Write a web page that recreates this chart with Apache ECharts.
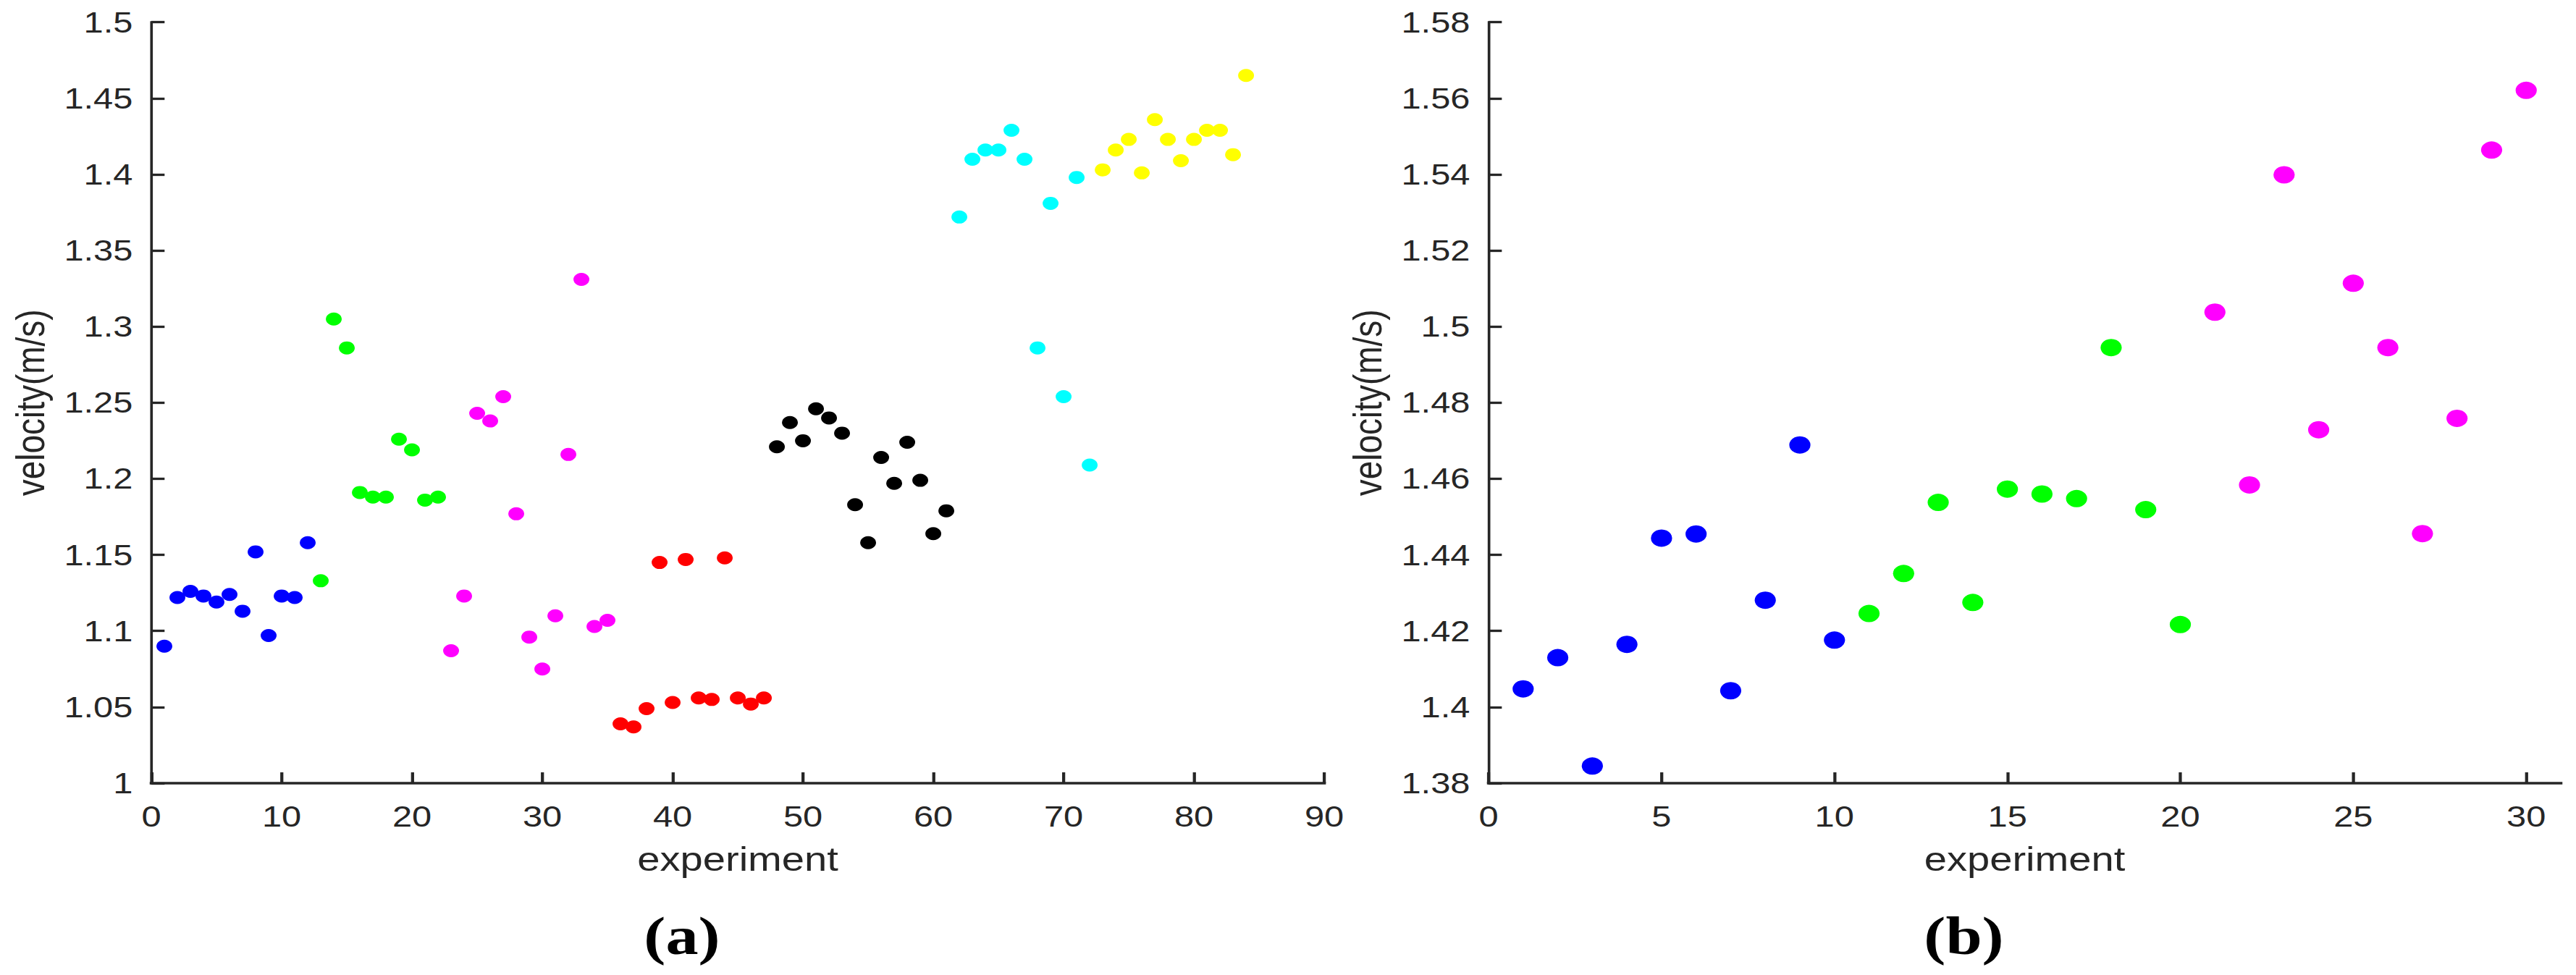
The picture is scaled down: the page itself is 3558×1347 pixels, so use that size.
<!DOCTYPE html>
<html>
<head>
<meta charset="utf-8">
<script src="https://cdn.jsdelivr.net/npm/echarts@6/dist/echarts.min.js"></script>
<style>
  html, body { margin: 0; padding: 0; background: #ffffff; }
  #wrap { width: 3558px; height: 1347px; overflow: hidden; background: #ffffff; }
  /* the reference figure is stretched horizontally (~1.22x); reproduce that */
  #chart { width: 2916px; height: 1347px; transform: scaleX(1.2202); transform-origin: 0 0; }
</style>
</head>
<body>
<div id="wrap"><div id="chart"></div></div>
<script>
// ---------- data: panel (a) ----------
const aBlue    = [[1,1.090],[2,1.122],[3,1.126],[4,1.123],[5,1.119],[6,1.124],[7,1.113],[8,1.152],[9,1.097],[10,1.123],[11,1.122],[12,1.158]];
const aGreen   = [[13,1.133],[14,1.305],[15,1.286],[16,1.191],[17,1.188],[18,1.188],[19,1.226],[20,1.219],[21,1.186],[22,1.188]];
const aMagenta = [[23,1.087],[24,1.123],[25,1.243],[26,1.238],[27,1.254],[28,1.177],[29,1.096],[30,1.075],[31,1.110],[32,1.216],[33,1.331],[34,1.103],[35,1.107]];
const aRed     = [[36,1.039],[37,1.037],[38,1.049],[39,1.145],[40,1.053],[41,1.147],[42,1.056],[43,1.055],[44,1.148],[45,1.056],[46,1.052],[47,1.056]];
const aBlack   = [[48,1.221],[49,1.237],[50,1.225],[51,1.246],[52,1.240],[53,1.230],[54,1.183],[55,1.158],[56,1.214],[57,1.197],[58,1.224],[59,1.199],[60,1.164],[61,1.179]];
const aCyan    = [[62,1.372],[63,1.410],[64,1.416],[65,1.416],[66,1.429],[67,1.410],[68,1.286],[69,1.381],[70,1.254],[71,1.398],[72,1.209]];
const aYellow  = [[73,1.403],[74,1.416],[75,1.423],[76,1.401],[77,1.436],[78,1.423],[79,1.409],[80,1.423],[81,1.429],[82,1.429],[83,1.413],[84,1.465]];

// ---------- data: panel (b) ----------
const bBlue    = [[1,1.4048],[2,1.4130],[3,1.3845],[4,1.4165],[5,1.4444],[6,1.4455],[7,1.4043],[8,1.4281],[9,1.4689],[10,1.4176]];
const bGreen   = [[11,1.4246],[12,1.4351],[13,1.4538],[14,1.4275],[15,1.4573],[16,1.4560],[17,1.4548],[18,1.4945],[19,1.4519],[20,1.4217]];
const bMagenta = [[21,1.5038],[22,1.4584],[23,1.5399],[24,1.4729],[25,1.5114],[26,1.4945],[27,1.4456],[28,1.4759],[29,1.5464],[30,1.5621]];

// ---------- axis ticks / labels ----------
const aXTicks = [0,10,20,30,40,50,60,70,80,90];
const bXTicks = [0,5,10,15,20,25,30];
const xName = 'experiment';
const yName = 'velocity(m/s)';
const panelLabels = ['(a)', '(b)'];

const AX = '#262626';
const FONT = '"Liberation Sans", Arial, Helvetica, sans-serif';

function xAxisCfg(grid, min, max, interval, ticks) {
  return {
    gridIndex: grid, type: 'value', min: min, max: max, interval: interval,
    splitLine: { show: false },
    axisLine: { show: true, onZero: false, lineStyle: { color: AX, width: 3.7, cap: 'square' } },
    axisTick: { show: true, inside: true, length: 15, customValues: ticks, lineStyle: { color: AX, width: 3.5 } },
    axisLabel: { show: true, customValues: ticks, margin: 26, color: AX, fontSize: 40, fontFamily: FONT },
    name: xName, nameLocation: 'middle', nameGap: 82,
    nameTextStyle: { color: AX, fontSize: 46, fontFamily: FONT }
  };
}
function yAxisCfg(grid, min, max, interval) {
  return {
    gridIndex: grid, type: 'value', min: min, max: max, interval: interval,
    splitLine: { show: false },
    axisLine: { show: true, onZero: false, lineStyle: { color: AX, width: 3.0, cap: 'square' } },
    axisTick: { show: true, inside: true, length: 15, lineStyle: { color: AX, width: 3.3 } },
    axisLabel: { show: true, margin: 21, color: AX, fontSize: 40, fontFamily: FONT },
    name: yName, nameLocation: 'middle', nameGap: 114, nameRotate: 90,
    nameTextStyle: { color: AX, fontSize: 46, fontFamily: FONT }
  };
}
function dots(name, data, color, x, y, size) {
  return {
    name: name, type: 'scatter', xAxisIndex: x, yAxisIndex: y, data: data,
    symbol: 'circle', symbolSize: size, silent: true,
    itemStyle: { color: color, opacity: 1 }
  };
}

const chart = echarts.init(document.getElementById('chart'), null, { renderer: 'svg' });
chart.setOption({
  animation: false,
  backgroundColor: '#ffffff',
  grid: [
    { left: 171.3, right: 1417, top: 30.7, bottom: 265, containLabel: false, outerBoundsMode: 'none' },
    { left: 1685, right: 17.3, top: 30.7, bottom: 265, containLabel: false, outerBoundsMode: 'none' }
  ],
  xAxis: [ xAxisCfg(0, 0, 90, 10, aXTicks), xAxisCfg(1, 0, 31, 5, bXTicks) ],
  yAxis: [ yAxisCfg(0, 1.0, 1.5, 0.05), yAxisCfg(1, 1.38, 1.58, 0.02) ],
  graphic: [
    { type: 'text', x: 772, y: 1293, silent: true,
      style: { text: panelLabels[0], font: 'bold 74px "Liberation Serif", "Times New Roman", serif', fill: '#000', align: 'center', verticalAlign: 'middle' } },
    { type: 'text', x: 2223, y: 1293, silent: true,
      style: { text: panelLabels[1], font: 'bold 74px "Liberation Serif", "Times New Roman", serif', fill: '#000', align: 'center', verticalAlign: 'middle' } }
  ],
  series: [
    dots('a-blue', aBlue, '#0000ff', 0, 0, 18),
    dots('a-green', aGreen, '#00ff00', 0, 0, 18),
    dots('a-magenta', aMagenta, '#ff00ff', 0, 0, 18),
    dots('a-red', aRed, '#ff0000', 0, 0, 18),
    dots('a-black', aBlack, '#000000', 0, 0, 18),
    dots('a-cyan', aCyan, '#00ffff', 0, 0, 18),
    dots('a-yellow', aYellow, '#ffff00', 0, 0, 18),
    dots('b-blue', bBlue, '#0000ff', 1, 1, 24),
    dots('b-green', bGreen, '#00ff00', 1, 1, 24),
    dots('b-magenta', bMagenta, '#ff00ff', 1, 1, 24)
  ]
});
</script>
</body>
</html>
